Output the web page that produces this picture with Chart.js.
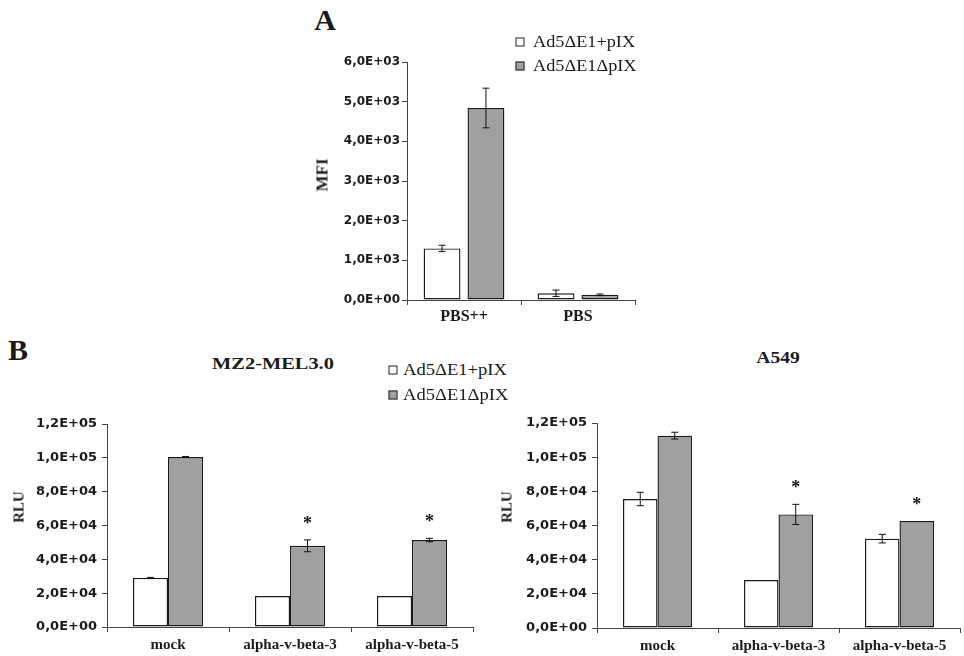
<!DOCTYPE html>
<html><head><meta charset="utf-8">
<script src="https://cdn.jsdelivr.net/npm/chart.js@4.4.1/dist/chart.umd.min.js"></script>
<style>
html,body{margin:0;padding:0;background:#fff;}
body{width:964px;height:656px;position:relative;overflow:hidden;font-family:"Liberation Serif",serif;color:#1a1a1a;}
canvas{position:absolute;}
.t{position:absolute;white-space:nowrap;line-height:1;}
.c{transform:translate(-50%,-50%);}
.sq{position:absolute;width:7px;height:7px;border:1.5px solid #222;transform:translate(-50%,-50%);}
</style></head><body>
<canvas id="cA" width="345" height="290" style="left:300px;top:40px"></canvas>
<canvas id="cB1" width="480" height="256" style="left:0px;top:400px"></canvas>
<canvas id="cB2" width="474" height="256" style="left:490px;top:400px"></canvas>

<div class="t c" style="left:325px;top:20px;font-size:30px;font-weight:bold;">A</div>
<div class="t c" style="left:18px;top:350px;font-size:30px;font-weight:bold;">B</div>

<div class="sq" style="left:520px;top:42px;background:#fff;"></div>
<div class="sq" style="left:520px;top:66px;background:#a0a0a0;"></div>
<div class="t" id="legA1" style="left:533px;top:42px;font-size:16px;transform:translate(0,-50%) scaleX(1.14);transform-origin:left center;"></div>
<div class="t" id="legA2" style="left:533px;top:66px;font-size:16px;transform:translate(0,-50%) scaleX(1.14);transform-origin:left center;"></div>

<div class="sq" style="left:393px;top:370px;background:#fff;"></div>
<div class="sq" style="left:393px;top:395px;background:#a0a0a0;"></div>
<div class="t" id="legB1" style="left:403px;top:370px;font-size:16px;transform:translate(0,-50%) scaleX(1.16);transform-origin:left center;"></div>
<div class="t" id="legB2" style="left:403px;top:395px;font-size:16px;transform:translate(0,-50%) scaleX(1.16);transform-origin:left center;"></div>

<div class="t" style="left:273px;top:363px;font-size:17px;font-weight:bold;transform:translate(-50%,-50%) scaleX(1.2);">MZ2-MEL3.0</div>
<div class="t" style="left:778px;top:357px;font-size:17px;font-weight:bold;transform:translate(-50%,-50%) scaleX(1.15);">A549</div>

<div class="t" style="left:322px;top:175px;font-size:17px;font-weight:bold;transform:translate(-50%,-50%) rotate(-90deg);">MFI</div>
<div class="t" style="left:19px;top:507px;font-size:15px;font-weight:bold;transform:translate(-50%,-50%) rotate(-90deg);">RLU</div>
<div class="t" style="left:507px;top:507px;font-size:15px;font-weight:bold;transform:translate(-50%,-50%) rotate(-90deg);">RLU</div>

<script>
// ---- data ----
const seriesNames = ['Ad5\u0394E1+pIX', 'Ad5\u0394E1\u0394pIX'];

const categoriesA = ['PBS++', 'PBS'];
const aWithPIX = [1300, 170];
const aWithPIXErr = [80, 80];
const aDeltaPIX = [4840, 130];
const aDeltaPIXErr = [500, 20];
const aStars = [false, false];
const yTicksA = ['0,0E+00', '1,0E+03', '2,0E+03', '3,0E+03', '4,0E+03', '5,0E+03', '6,0E+03'];

const categoriesB = ['mock', 'alpha-v-beta-3', 'alpha-v-beta-5'];
const melWithPIX = [29000, 18300, 18300];
const melWithPIXErr = [300, 0, 0];
const melDeltaPIX = [100500, 48000, 51400];
const melDeltaPIXErr = [300, 3500, 1000];
const melStars = [false, true, true];

const a549WithPIX = [75500, 28100, 52300];
const a549WithPIXErr = [3900, 0, 2500];
const a549DeltaPIX = [112600, 66500, 62600];
const a549DeltaPIXErr = [2000, 5900, 0];
const a549Stars = [false, true, true];

const yTicksB = ['0,0E+00', '2,0E+04', '4,0E+04', '6,0E+04', '8,0E+04', '1,0E+05', '1,2E+05'];

document.getElementById('legA1').textContent = seriesNames[0];
document.getElementById('legA2').textContent = seriesNames[1];
document.getElementById('legB1').textContent = seriesNames[0];
document.getElementById('legB2').textContent = seriesNames[1];

// ---- error bars and significance stars ----
const errStarPlugin = {
  id: 'errStar',
  afterDatasetsDraw(chart) {
    const ctx = chart.ctx;
    const ys = chart.scales.y;
    chart.data.datasets.forEach((ds, di) => {
      const meta = chart.getDatasetMeta(di);
      meta.data.forEach((bar, i) => {
        const v = ds.data[i];
        const e = (ds.errors || [])[i] || 0;
        const x = bar.x;
        const topY = ys.getPixelForValue(v + e);
        if (e > 0) {
          const bY = ys.getPixelForValue(v - e);
          ctx.save();
          ctx.strokeStyle = '#111';
          ctx.lineWidth = 1;
          ctx.beginPath();
          ctx.moveTo(x, topY); ctx.lineTo(x, bY);
          ctx.moveTo(x - 3.5, topY); ctx.lineTo(x + 3.5, topY);
          ctx.moveTo(x - 3.5, bY); ctx.lineTo(x + 3.5, bY);
          ctx.stroke();
          ctx.restore();
        }
        if (ds.stars && ds.stars[i]) {
          ctx.save();
          ctx.font = 'bold 18px "Liberation Serif"';
          ctx.textAlign = 'center';
          ctx.textBaseline = 'alphabetic';
          ctx.fillStyle = '#111';
          ctx.fillText('*', x, Math.min(topY, bar.y) - 21 + 10);
          ctx.restore();
        }
      });
    });
  }
};

function makeChart(id, cats, d1, e1, d2, e2, stars, yTicks, yMax, step, o) {
  return new Chart(document.getElementById(id), {
    type: 'bar',
    data: {
      labels: cats,
      datasets: [
        { label: seriesNames[0], data: d1, errors: e1, backgroundColor: '#ffffff', borderColor: '#1a1a1a', borderWidth: 1.4, borderSkipped: false, categoryPercentage: o.cp, barPercentage: o.bp },
        { label: seriesNames[1], data: d2, errors: e2, stars: stars, backgroundColor: '#a0a0a0', borderColor: '#1a1a1a', borderWidth: 1.4, borderSkipped: false, categoryPercentage: o.cp, barPercentage: o.bp }
      ]
    },
    options: {
      responsive: false, animation: false, devicePixelRatio: 1,
      layout: { padding: o.pad },
      plugins: { legend: { display: false }, tooltip: { enabled: false } },
      scales: {
        x: {
          grid: { display: true, drawOnChartArea: false, drawTicks: true, tickLength: 5, color: '#444', offset: true },
          border: { display: true, color: '#444', width: 1 },
          ticks: { font: { family: '"Liberation Serif"', weight: 'bold', size: o.xfs }, color: '#1a1a1a', padding: o.xpad, maxRotation: 0, autoSkip: false },
          afterFit: s => { s.height = o.xh; s.paddingLeft = 0; s.paddingRight = 0; }
        },
        y: {
          min: 0, max: yMax,
          ticks: { stepSize: step, callback: (v, i) => yTicks[i], font: { family: '"DejaVu Sans"', weight: 'bold', size: o.yfs }, color: '#1a1a1a', padding: o.ypad },
          grid: { display: true, drawOnChartArea: false, drawTicks: true, tickLength: 5, color: '#444' },
          border: { display: true, color: '#444', width: 1 },
          afterFit: s => { s.width = o.yw; s.paddingTop = 0; s.paddingBottom = 0; }
        }
      }
    },
    plugins: [errStarPlugin]
  });
}

makeChart('cA', categoriesA, aWithPIX, aWithPIXErr, aDeltaPIX, aDeltaPIXErr, aStars, yTicksA, 6000, 1000,
  { cp: 0.77, bp: 0.84, pad: { left: 10, right: 10, top: 22, bottom: 0 }, yw: 97, xh: 30, xfs: 16, xpad: 2, yfs: 12, ypad: 2 });
makeChart('cB1', categoriesB, melWithPIX, melWithPIXErr, melDeltaPIX, melDeltaPIXErr, melStars, yTicksB, 120000, 20000,
  { cp: 0.574, bp: 1.0, pad: { left: 5, right: 7, top: 24, bottom: 0 }, yw: 102, xh: 29, xfs: 15, xpad: 4, yfs: 13, ypad: 5 });
makeChart('cB2', categoriesB, a549WithPIX, a549WithPIXErr, a549DeltaPIX, a549DeltaPIXErr, a549Stars, yTicksB, 120000, 20000,
  { cp: 0.57, bp: 1.0, pad: { left: 5, right: 4, top: 23, bottom: 0 }, yw: 102, xh: 28, xfs: 15, xpad: 4, yfs: 13, ypad: 5 });
</script>
</body></html>
